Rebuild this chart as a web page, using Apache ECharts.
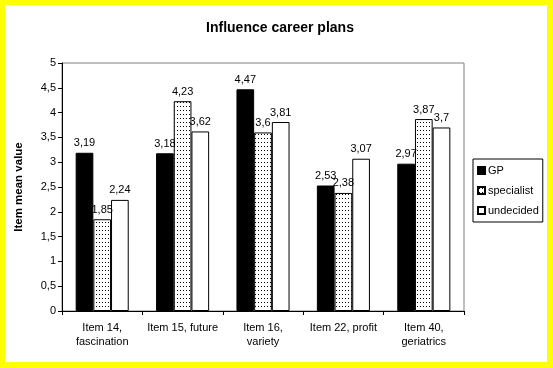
<!DOCTYPE html>
<html><head><meta charset="utf-8">
<script src="https://cdn.jsdelivr.net/npm/echarts@6/dist/echarts.min.js"></script>
<style>
html,body{margin:0;padding:0;background:#ffff00;width:553px;height:368px;overflow:hidden}
#c{position:absolute;left:5px;top:5px;width:542px;height:357px;background:#fff}
</style></head>
<body><div id="c"></div>
<script>
const categories = ['Item 14,\nfascination', 'Item 15, future', 'Item 16,\nvariety', 'Item 22, profit', 'Item 40,\ngeriatrics'];
const gp = [3.19, 3.18, 4.47, 2.53, 2.97];
const specialist = [1.85, 4.23, 3.6, 2.38, 3.87];
const undecided = [2.24, 3.62, 3.81, 3.07, 3.7];
const seriesNames = ['GP', 'specialist', 'undecided'];

const cv = document.createElement('canvas');
cv.width = 3; cv.height = 4;
const cx = cv.getContext('2d');
cx.fillStyle = '#fff'; cx.fillRect(0,0,3,4);
cx.fillStyle = '#000';
cx.fillRect(1,1,1,1);
const dotted = {image: cv, repeat: 'repeat'};

const fmt = v => String(v).replace('.', ',');
const font = 'Liberation Sans, Arial, sans-serif';
const lbl = {show:true, position:'top', distance:4, color:'#000', fontSize:11, fontFamily:font, formatter: p => fmt(p.value)};
const chart = echarts.init(document.getElementById('c'), null, {renderer:'canvas'});
chart.setOption({
  animation:false,
  backgroundColor:'#fff',
  title:{text:'Influence career plans', left:270, textAlign:'center', top:11,
    textStyle:{fontSize:14, fontWeight:'bold', fontFamily:font, color:'#000'}},
  grid:{left:57, top:58, right:83, bottom:51, show:true, borderColor:'#808080', borderWidth:1},
  legend:{orient:'vertical', left:468, top:154, itemWidth:7, itemHeight:7, itemGap:9,
    padding:[6,4,6,4], borderColor:'#000', borderWidth:1, backgroundColor:'#fff',
    icon:'rect', textStyle:{fontSize:11, fontFamily:font, color:'#000', padding:[0,0,0,-2]},
    data: seriesNames},
  xAxis:{type:'category', data:categories,
    axisLine:{lineStyle:{color:'#000'}},
    axisTick:{show:true, alignWithLabel:false, length:4, lineStyle:{color:'#000'}},
    axisLabel:{color:'#000', fontSize:11, fontFamily:font, margin:10, lineHeight:14, interval:0}},
  yAxis:{type:'value', min:0, max:5, interval:0.5,
    name:'Item mean value', nameLocation:'middle', nameGap:37,
    nameTextStyle:{fontSize:11.5, fontWeight:'bold', fontFamily:font, color:'#000'},
    axisLine:{show:true, lineStyle:{color:'#000'}},
    axisTick:{show:true, length:4, lineStyle:{color:'#000'}},
    splitLine:{show:false},
    axisLabel:{color:'#000', fontSize:11, fontFamily:font, margin:6, formatter: v => fmt(v)}},
  series:[
    {name:'GP', type:'bar', data:gp, barGap:'0%', barCategoryGap:'34%',
      itemStyle:{color:'#000', borderColor:'#000', borderWidth:1}, label:lbl},
    {name:'specialist', type:'bar', data:specialist, barGap:'0%', barCategoryGap:'34%',
      itemStyle:{color:dotted, borderColor:'#000', borderWidth:1}, label:lbl},
    {name:'undecided', type:'bar', data:undecided, barGap:'0%', barCategoryGap:'34%',
      itemStyle:{color:'#fff', borderColor:'#000', borderWidth:1}, label:lbl}
  ]
});
</script></body></html>
